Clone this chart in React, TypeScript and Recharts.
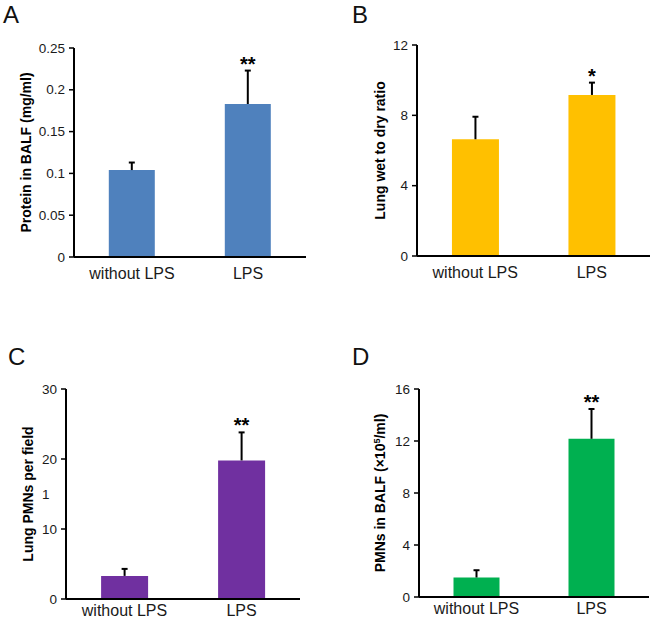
import React from "react";
import { BarChart, Bar, XAxis, YAxis, LabelList } from "recharts";

// ── Data ────────────────────────────────────────────────────────────────

const GROUPS = ["without LPS", "LPS"];

const PROTEIN_MEAN = [0.104, 0.183];
const PROTEIN_SEM = [0.009, 0.04];
const PROTEIN_SIG = ["", "**"];
const PROTEIN_TICKS = [0, 0.05, 0.1, 0.15, 0.2, 0.25];

const WET_DRY_MEAN = [6.64, 9.16];
const WET_DRY_SEM = [1.28, 0.7];
const WET_DRY_SIG = ["", "*"];
const WET_DRY_TICKS = [0, 4, 8, 12];

const LUNG_PMN_MEAN = [3.3, 19.8];
const LUNG_PMN_SEM = [1.0, 4.0];
const LUNG_PMN_SIG = ["", "**"];
const LUNG_PMN_TICKS = [0, 10, 20, 30];
// a stray "1" sits at 15 on the original axis, without a tick mark
const LUNG_PMN_STRAY = [15];
const LUNG_PMN_STRAY_LABEL = "1";

const BALF_PMN_MEAN = [1.5, 12.17];
const BALF_PMN_SEM = [0.56, 2.29];
const BALF_PMN_SIG = ["", "**"];
const BALF_PMN_TICKS = [0, 4, 8, 12, 16];

const FONT = "'Liberation Sans', Arial, Helvetica, sans-serif";
const TEXT = "#1a1a1a";

// ── Pieces ──────────────────────────────────────────────────────────────

function ErrorShape(props: any) {
  const { x, y, width, height } = props;
  if (x == null || y == null) return null;
  const cx = x + width / 2;
  return (
    <g>
      <line x1={cx} x2={cx} y1={y + height} y2={y} stroke="#000" strokeWidth={2} />
      <line x1={cx - 3} x2={cx + 3} y1={y} y2={y} stroke="#000" strokeWidth={2} />
    </g>
  );
}

function YTick(props: any) {
  const { x, y, payload, stray, strayLabel } = props;
  const isStray = stray && stray.includes(payload.value);
  return (
    <g>
      {!isStray && (
        <line x1={x + 4} x2={x + 9} y1={y} y2={y} stroke="#000" strokeWidth={1.5} />
      )}
      <text
        x={isStray ? x - 7.5 : x}
        y={y}
        textAnchor="end"
        dominantBaseline="central"
        fontSize={13.5}
        fill={TEXT}
      >
        {isStray ? strayLabel : payload.value}
      </text>
    </g>
  );
}

type PanelProps = {
  left: number;
  top: number;
  width: number;
  height: number;
  margin: { top: number; right: number; bottom: number };
  yWidth: number;
  titleX: number;
  title: React.ReactNode;
  means: number[];
  sems: number[];
  sig: string[];
  ticks: number[];
  color: string;
  xGap: number;
  stray?: number[];
  strayLabel?: string;
};

function Panel(p: PanelProps) {
  const data = GROUPS.map((name, i) => ({
    name,
    mean: p.means[i],
    sem: p.sems[i],
    sig: p.sig[i],
  }));
  const max = p.ticks[p.ticks.length - 1];

  return (
    <div style={{ position: "absolute", left: p.left, top: p.top }}>
      <BarChart
        width={p.width}
        height={p.height}
        data={data}
        margin={{ top: p.margin.top, right: p.margin.right, bottom: p.margin.bottom - 2, left: 0 }}
        barCategoryGap="30%"
      >
        <XAxis
          dataKey="name"
          height={1}
          interval={0}
          tickLine={false}
          tickSize={0}
          tickMargin={p.xGap}
          axisLine={{ stroke: "#000", strokeWidth: 2 }}
          tick={{ fontSize: 16, fill: TEXT }}
        />
        <XAxis
          xAxisId="edge"
          type="number"
          domain={[0, 2]}
          ticks={[0, 1, 2]}
          height={1}
          axisLine={false}
          tick={false}
          tickSize={5}
          tickLine={{ stroke: "#000", strokeWidth: 1.5 }}
        />
        <YAxis
          type="number"
          domain={[0, max]}
          ticks={[...p.ticks, ...(p.stray ?? [])]}
          interval={0}
          width={p.yWidth}
          tickLine={false}
          tickSize={5}
          tickMargin={4}
          axisLine={{ stroke: "#000", strokeWidth: 2 }}
          tick={<YTick stray={p.stray} strayLabel={p.strayLabel} />}
          label={{
            content: (lp: any) => {
              const vb = lp.viewBox || {};
              const cy = (vb.y ?? 0) + (vb.height ?? 0) / 2;
              return (
                <text
                  x={p.titleX}
                  y={cy}
                  transform={`rotate(-90, ${p.titleX}, ${cy})`}
                  textAnchor="middle"
                  fontSize={14}
                  fontWeight="bold"
                  fill="#000"
                >
                  {p.title}
                </text>
              );
            },
          }}
        />
        <Bar dataKey="mean" stackId="s" fill={p.color} isAnimationActive={false} />
        <Bar dataKey="sem" stackId="s" shape={ErrorShape} isAnimationActive={false}>
          <LabelList
            dataKey="sig"
            position="top"
            offset={0}
            fontSize={20}
            fontWeight="bold"
            fill="#000"
          />
        </Bar>
      </BarChart>
    </div>
  );
}

// ── Figure ──────────────────────────────────────────────────────────────

export default function App() {
  return (
    <div
      style={{
        position: "absolute",
        left: 0,
        top: 0,
        width: 654,
        height: 621,
        background: "#fff",
        fontFamily: FONT,
        overflow: "hidden",
      }}
    >
      <Panel
        left={0}
        top={0}
        width={327}
        height={310}
        margin={{ top: 48, right: 21, bottom: 53 }}
        yWidth={74}
        titleX={31}
        title="Protein in BALF (mg/ml)"
        means={PROTEIN_MEAN}
        sems={PROTEIN_SEM}
        sig={PROTEIN_SIG}
        ticks={PROTEIN_TICKS}
        color="#4F81BD"
        xGap={10.5}
      />
      <Panel
        left={327}
        top={0}
        width={327}
        height={310}
        margin={{ top: 45, right: 4, bottom: 54 }}
        yWidth={90}
        titleX={58}
        title="Lung wet to dry ratio"
        means={WET_DRY_MEAN}
        sems={WET_DRY_SEM}
        sig={WET_DRY_SIG}
        ticks={WET_DRY_TICKS}
        color="#FFC000"
        xGap={10.5}
      />
      <Panel
        left={0}
        top={310}
        width={327}
        height={311}
        margin={{ top: 79, right: 27, bottom: 22 }}
        yWidth={66}
        titleX={33}
        title="Lung PMNs per field"
        means={LUNG_PMN_MEAN}
        sems={LUNG_PMN_SEM}
        sig={LUNG_PMN_SIG}
        ticks={LUNG_PMN_TICKS}
        stray={LUNG_PMN_STRAY}
        strayLabel={LUNG_PMN_STRAY_LABEL}
        color="#7030A0"
        xGap={6}
      />
      <Panel
        left={327}
        top={310}
        width={327}
        height={311}
        margin={{ top: 79, right: 5, bottom: 24 }}
        yWidth={92}
        titleX={58}
        title={
          <>
            PMNs in BALF (×10
            <tspan baselineShift="super" fontSize={9}>
              5
            </tspan>
            /ml)
          </>
        }
        means={BALF_PMN_MEAN}
        sems={BALF_PMN_SEM}
        sig={BALF_PMN_SIG}
        ticks={BALF_PMN_TICKS}
        color="#00B050"
        xGap={6}
      />
      <svg
        width={654}
        height={621}
        style={{ position: "absolute", left: 0, top: 0, pointerEvents: "none" }}
      >
        <g fontSize={24} fill="#111" fontFamily={FONT}>
          <text x={3} y={23}>A</text>
          <text x={352} y={23}>B</text>
          <text x={8} y={365}>C</text>
          <text x={352} y={365}>D</text>
        </g>
      </svg>
    </div>
  );
}
